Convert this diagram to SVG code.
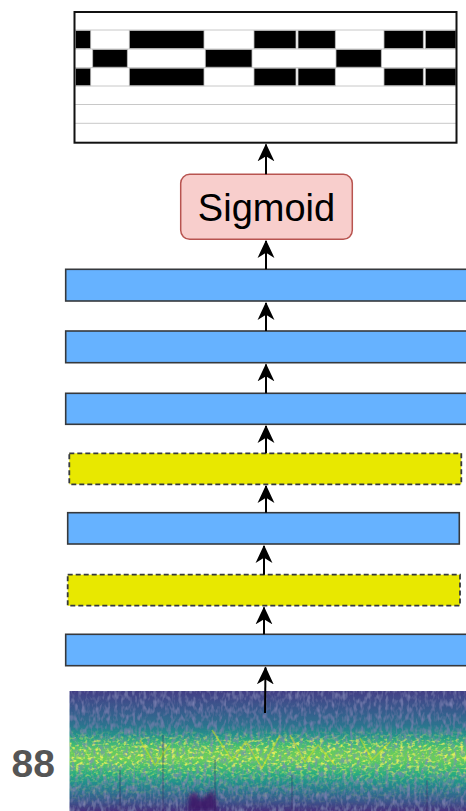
<svg xmlns="http://www.w3.org/2000/svg" width="466" height="811" viewBox="0 0 466 811">
<style>
.blue{fill:#66b2ff;stroke:#36393d;stroke-width:1.6}
.yellow{fill:#e8e800;stroke:#36393d;stroke-width:1.8;stroke-dasharray:5 3}
.note{fill:#000;stroke:#bdbdbd;stroke-width:0.8}
.grid{stroke:#c8c8c8;stroke-width:1}
.edge{stroke:#000;stroke-width:2;fill:none}
</style>
<defs>
<marker id="ah" markerUnits="userSpaceOnUse" markerWidth="18" markerHeight="18" viewBox="0 0 16 16" refX="15" refY="8" orient="auto">
<path d="M16 8 L0 0.5 L4.5 8 L0 15.5 Z" fill="#000"/>
</marker>
<linearGradient id="spec" x1="0" y1="0" x2="0" y2="1">
<stop offset="0" stop-color="#433e85"/>
<stop offset="0.07" stop-color="#3f4c8a"/>
<stop offset="0.17" stop-color="#365d8d"/>
<stop offset="0.28" stop-color="#2c728e"/>
<stop offset="0.37" stop-color="#23938b"/>
<stop offset="0.44" stop-color="#3bb877"/>
<stop offset="0.50" stop-color="#62c95f"/>
<stop offset="0.56" stop-color="#6ccd5a"/>
<stop offset="0.62" stop-color="#4ac16d"/>
<stop offset="0.69" stop-color="#29ac80"/>
<stop offset="0.76" stop-color="#22918c"/>
<stop offset="0.84" stop-color="#2b748e"/>
<stop offset="0.92" stop-color="#3a558c"/>
<stop offset="1" stop-color="#46317e"/>
</linearGradient>
<linearGradient id="band" x1="0" y1="0" x2="0" y2="1">
<stop offset="0" stop-color="#fff" stop-opacity="0"/>
<stop offset="0.32" stop-color="#fff" stop-opacity="0"/>
<stop offset="0.45" stop-color="#fff" stop-opacity="0.9"/>
<stop offset="0.6" stop-color="#fff" stop-opacity="0.9"/>
<stop offset="0.75" stop-color="#fff" stop-opacity="0.25"/>
<stop offset="1" stop-color="#fff" stop-opacity="0"/>
</linearGradient>
<filter id="dark" x="0" y="0" width="1" height="1">
<feTurbulence type="fractalNoise" baseFrequency="0.28 0.14" numOctaves="2" seed="4" result="n"/>
<feColorMatrix in="n" type="matrix" values="0 0 0 0 0.2  0 0 0 0 0.22  0 0 0 0 0.45  2 0 0 0 -0.9" result="d"/>
<feComposite in="d" in2="SourceGraphic" operator="atop"/>
</filter>
<filter id="speck" x="0" y="0" width="1" height="1">
<feTurbulence type="fractalNoise" baseFrequency="0.25 0.35" numOctaves="2" seed="9" result="n"/>
<feColorMatrix in="n" type="matrix" values="0 0 0 0 0.85  0 0 0 0 0.89  0 0 0 0 0.1  3.5 0 0 0 -1.7" result="s"/>
<feComposite in="s" in2="SourceGraphic" operator="in"/>
</filter>
<filter id="blur"><feGaussianBlur stdDeviation="2"/></filter>
<clipPath id="specClip"><rect x="69.3" y="691" width="397" height="120"/></clipPath>
</defs>

<g id="piano-roll">
<rect x="74.5" y="12" width="382" height="130.7" fill="#fff"/>
<g class="grid">
<line x1="75" y1="30" x2="456" y2="30"/>
<line x1="75" y1="49" x2="456" y2="49"/>
<line x1="75" y1="67.7" x2="456" y2="67.7"/>
<line x1="75" y1="86" x2="456" y2="86"/>
<line x1="75" y1="104.5" x2="456" y2="104.5"/>
<line x1="75" y1="123.3" x2="456" y2="123.3"/>
</g>
<g class="note">
<rect x="75.5" y="30.5" width="15.2" height="18"/>
<rect x="129.3" y="30.5" width="74.7" height="18"/>
<rect x="254" y="30.5" width="42" height="18"/>
<rect x="298" y="30.5" width="37.3" height="18"/>
<rect x="384" y="30.5" width="39.3" height="18"/>
<rect x="425.3" y="30.5" width="30.7" height="18"/>
<rect x="92.7" y="49.5" width="34.6" height="17.7"/>
<rect x="205.3" y="49.5" width="46.7" height="17.7"/>
<rect x="336" y="49.5" width="45.3" height="17.7"/>
<rect x="75.5" y="68.2" width="15.2" height="17.5"/>
<rect x="129.3" y="68.2" width="74.7" height="17.5"/>
<rect x="254" y="68.2" width="42" height="17.5"/>
<rect x="298" y="68.2" width="37.3" height="17.5"/>
<rect x="384" y="68.2" width="39.3" height="17.5"/>
<rect x="425.3" y="68.2" width="30.7" height="17.5"/>
</g>
<rect x="74.5" y="12" width="382" height="130.7" fill="none" stroke="#111" stroke-width="2"/>
</g>

<g id="sigmoid">
<rect x="180.7" y="174.3" width="171.6" height="65" rx="9" fill="#f8cecc" stroke="#b85450" stroke-width="1.5"/>
<text x="266.5" y="221" font-family="Liberation Sans, Arial, sans-serif" font-size="38" text-anchor="middle" fill="#000">Sigmoid</text>
</g>

<g id="dense-3"><rect class="blue" x="65.7" y="269.3" width="402" height="31.7"/></g>
<g id="dense-2"><rect class="blue" x="65.7" y="331" width="402" height="31.7"/></g>
<g id="dense-1"><rect class="blue" x="65.7" y="393.3" width="402" height="31"/></g>
<g id="dropout-2"><rect class="yellow" x="69.3" y="453.3" width="392" height="31"/></g>
<g id="conv-2"><rect class="blue" x="67.7" y="512.7" width="391.6" height="31.3"/></g>
<g id="dropout-1"><rect class="yellow" x="67.7" y="574.7" width="392.3" height="31"/></g>
<g id="conv-1"><rect class="blue" x="65.7" y="634.3" width="402" height="31.4"/></g>

<g id="spectrogram">
<g clip-path="url(#specClip)">
<rect x="69.3" y="691" width="397" height="120" fill="url(#spec)" filter="url(#dark)"/>
<rect x="69.3" y="691" width="397" height="120" fill="url(#band)" filter="url(#speck)"/>
<g stroke="#d4e21a" stroke-width="1.6" fill="none" opacity="0.5">
<polyline points="212,730 232,760 246,742 262,768 280,735"/>
<polyline points="290,735 305,762 318,745 335,765"/>
<polyline points="140,740 155,765 170,745"/>
<polyline points="360,738 372,760 390,742"/>
</g>
<g stroke="#35235f" stroke-width="1.2" opacity="0.4">
<line x1="163" y1="735" x2="163" y2="811"/>
<line x1="215" y1="760" x2="215" y2="811"/>
<line x1="120" y1="770" x2="120" y2="811"/>
<line x1="292" y1="775" x2="292" y2="811"/>
<line x1="427" y1="780" x2="427" y2="811"/>
</g>
<path d="M188 811 L189 795 L196 792 L200 800 L206 796 L212 790 L216 800 L217 811 Z" fill="#3e1466" opacity="0.85" filter="url(#blur)"/>
</g>
</g>

<g id="label-88">
<text x="11.5" y="777" font-family="Liberation Sans, Arial, sans-serif" font-size="39" font-weight="bold" fill="#555">88</text>
</g>

<g id="connectors" class="edge">
<line x1="265" y1="713" x2="265.5" y2="667.5" marker-end="url(#ah)"/>
<line x1="264" y1="634.3" x2="264" y2="607.5" marker-end="url(#ah)"/>
<line x1="264" y1="574.7" x2="264" y2="546" marker-end="url(#ah)"/>
<line x1="266" y1="512.7" x2="266" y2="486" marker-end="url(#ah)"/>
<line x1="266" y1="453.3" x2="266" y2="426" marker-end="url(#ah)"/>
<line x1="266" y1="393.3" x2="266" y2="364.5" marker-end="url(#ah)"/>
<line x1="266" y1="331" x2="266" y2="303" marker-end="url(#ah)"/>
<line x1="266" y1="269.3" x2="266" y2="241" marker-end="url(#ah)"/>
<line x1="266" y1="174.3" x2="266" y2="144.5" marker-end="url(#ah)"/>
</g>
</svg>
